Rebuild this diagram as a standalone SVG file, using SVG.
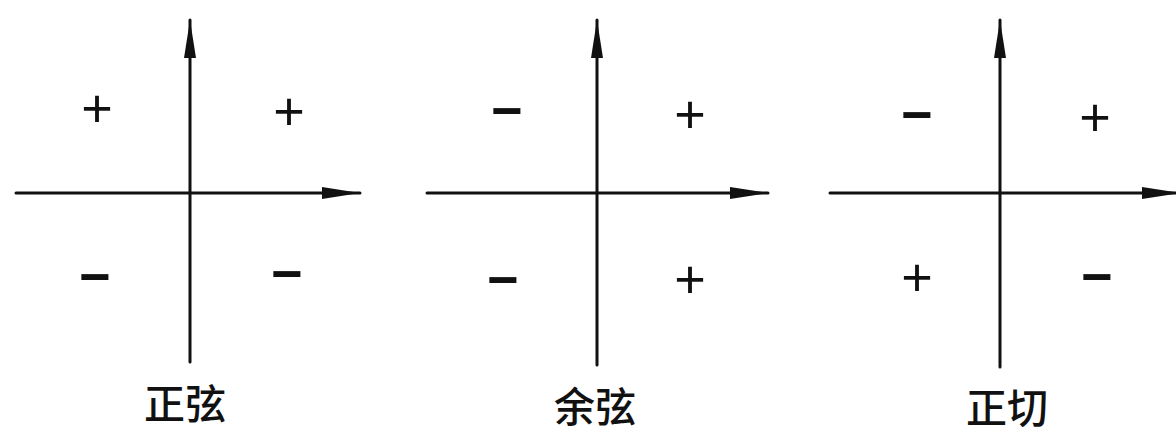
<svg xmlns="http://www.w3.org/2000/svg" width="1176" height="433" viewBox="0 0 1176 433">
<style>
.ax{stroke:#111;stroke-width:3;fill:none;stroke-linecap:round}
.sg{font-family:"Liberation Sans","DejaVu Sans",sans-serif;font-size:54px;fill:#111;text-anchor:middle}
.mn{font-weight:bold}
.lb{font-family:"Noto Sans CJK SC","Noto Sans CJK JP",sans-serif;font-size:41px;font-weight:500;fill:#111;text-anchor:middle}
</style>
<defs>
<marker id="ah" markerUnits="userSpaceOnUse" markerWidth="40" markerHeight="14" refX="38" refY="7" orient="auto" viewBox="0 0 40 14">
<path d="M0,1 L38,7 L0,13 Z" fill="#111"/>
</marker>
</defs>
<rect width="1176" height="433" fill="#fff"/>
<g id="connectors">
<line class="ax" x1="190" y1="362" x2="190" y2="20" marker-end="url(#ah)"/>
<line class="ax" x1="16" y1="193" x2="360" y2="193" marker-end="url(#ah)"/>
<line class="ax" x1="597" y1="365" x2="597" y2="20" marker-end="url(#ah)"/>
<line class="ax" x1="427" y1="193" x2="768" y2="193" marker-end="url(#ah)"/>
<line class="ax" x1="1000" y1="367" x2="1000" y2="20" marker-end="url(#ah)"/>
<line class="ax" x1="830" y1="193" x2="1180" y2="193" marker-end="url(#ah)"/>
</g>
<g id="sine">
<text class="sg" x="97" y="127">+</text>
<text class="sg" x="289" y="130">+</text>
<text class="sg mn" x="95" y="295">−</text>
<text class="sg mn" x="287" y="292">−</text>
<text class="lb" x="185" y="419">正弦</text>
</g>
<g id="cosine">
<text class="sg mn" x="507" y="129">−</text>
<text class="sg" x="690" y="133">+</text>
<text class="sg mn" x="503" y="298">−</text>
<text class="sg" x="690" y="298">+</text>
<text class="lb" x="595" y="422">余弦</text>
</g>
<g id="tangent">
<text class="sg mn" x="917" y="133">−</text>
<text class="sg" x="1095" y="136">+</text>
<text class="sg" x="917" y="296">+</text>
<text class="sg mn" x="1097" y="295">−</text>
<text class="lb" x="1007" y="423">正切</text>
</g>
</svg>
